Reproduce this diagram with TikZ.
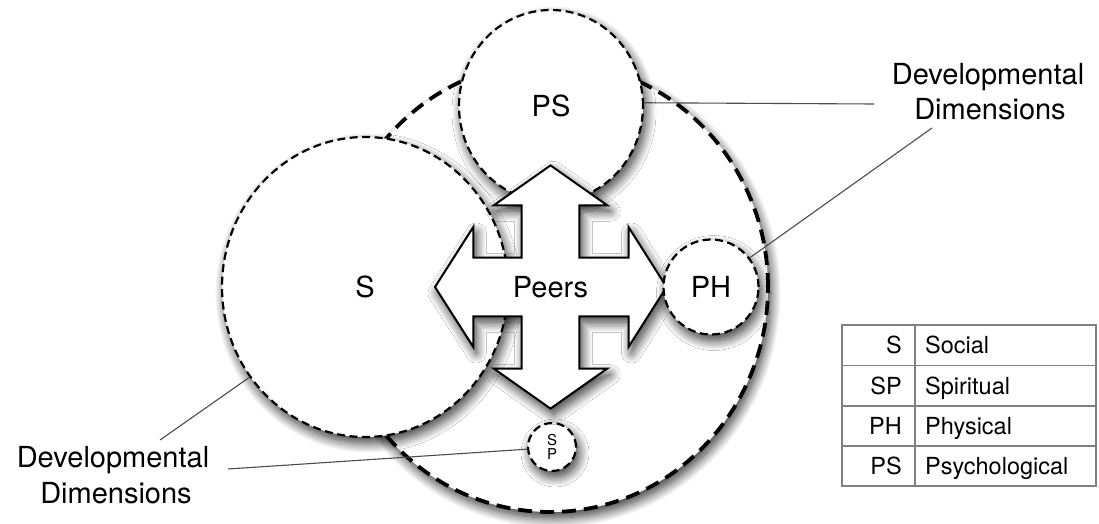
\documentclass[tikz,border=0pt]{standalone}
\usepackage{fontspec}
\setmainfont{TeX Gyre Heros}
\usetikzlibrary{shapes.geometric,shadows.blur}
\begin{document}
\begin{tikzpicture}[x=1pt,y=-1pt,
  thickdash/.style={line width=3.8pt, dash pattern=on 14pt off 8pt},
  thindash/.style={line width=2.2pt, dash pattern=on 8pt off 4.5pt},
  softshadow/.style={blur shadow={shadow xshift=3pt, shadow yshift=-6pt, shadow blur radius=10pt, shadow blur steps=16, shadow opacity=80}},
  dim/.style={ellipse, draw=black, fill=white, inner sep=0pt, thindash, softshadow},
  lbl/.style={font=\fontsize{29}{35}\selectfont},
  small/.style={font=\fontsize{15}{17}\selectfont, align=center},
  tab/.style={font=\fontsize{23.5}{28}\selectfont, inner sep=0pt},
  leader/.style={line width=1.1pt, draw=black!70},
  grid/.style={line width=1.2pt, draw=black!50}
]
\useasboundingbox (0,0) rectangle (1099,524);

% outer dimension
\node[dim, thickdash, minimum width=436pt, minimum height=450pt] (big) at (550,287) {};

% developmental dimensions
\node[dim, lbl, minimum width=286pt, minimum height=300pt] (S) at (365,287) {S};
\node[dim, lbl, minimum width=184pt, minimum height=192pt] (PS) at (551,106) {PS};
\node[dim, small, minimum size=48pt, inner sep=0pt] (SP) at (552,447) {S\\[-3pt]P};

% four-way arrow
\begin{scope}[shift={(550.5,287)}]
\path[draw=black, fill=white, line width=2pt, line join=miter, softshadow]
  (116,0) -- (78,60) -- (78,29.3) -- (28.8,29.3) -- (28.8,81.6) -- (56.7,81.6)
  -- (0,121.6) -- (-56.7,81.6) -- (-28.8,81.6) -- (-28.8,29.3) -- (-77.2,29.3)
  -- (-77.2,60) -- (-115.5,0) -- (-77.2,-60) -- (-77.2,-29.3) -- (-28.8,-29.3)
  -- (-28.8,-81.7) -- (-56.7,-81.7) -- (0,-121.6) -- (56.7,-81.7) -- (28.8,-81.7)
  -- (28.8,-29.3) -- (78,-29.3) -- (78,-60) -- cycle;
\node[lbl] (peers) at (0,0) {Peers};
\end{scope}

\node[dim, lbl, minimum size=95pt] (PH) at (711,287) {PH};

% labels
\node[lbl, anchor=base] (dd1a) at (988,85) {Developmental};
\node[lbl, anchor=base] (dd1b) at (990,120) {Dimensions};
\node[lbl, anchor=base] (dd2a) at (113,467) {Developmental};
\node[lbl, anchor=base] (dd2b) at (116,503) {Dimensions};

% leader lines
\coordinate (e1) at (874,104);
\coordinate (e2) at (932,128);
\coordinate (e3) at (160,440);
\coordinate (e4) at (228,469);
\draw[leader] (PS.2) -- (e1);
\draw[leader] (PH.37) -- (e2);
\draw[leader] (S.218) -- (e3);
\draw[leader] (SP.185) -- (e4);

% legend table
\draw[grid] (842,325) rectangle (1096,486);
\draw[grid] (915,325) -- (915,486);
\foreach \yy in {365.5,406,446} \draw[grid] (842,\yy) -- (1096,\yy);
\node[tab, anchor=base east] (k1) at (902,353.5) {S};
\node[tab, anchor=base west] (v1) at (925,353.5) {Social};
\node[tab, anchor=base east] (k2) at (902,394) {SP};
\node[tab, anchor=base west] (v2) at (925,394) {Spiritual};
\node[tab, anchor=base east] (k3) at (902,434.5) {PH};
\node[tab, anchor=base west] (v3) at (925,434.5) {Physical};
\node[tab, anchor=base east] (k4) at (902,474.5) {PS};
\node[tab, anchor=base west] (v4) at (925,474.5) {Psychological};
\end{tikzpicture}
\end{document}
